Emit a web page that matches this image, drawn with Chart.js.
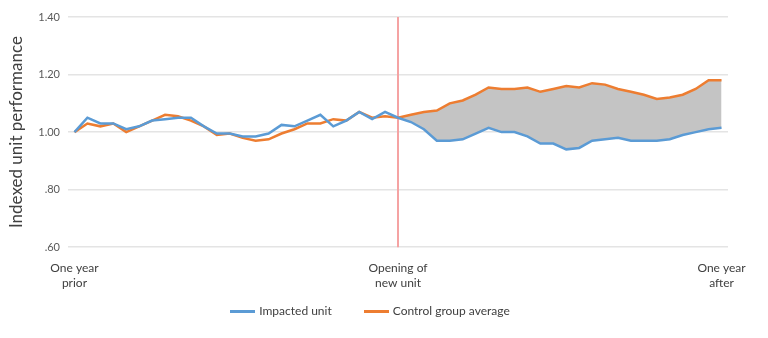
<!DOCTYPE html>
<html lang="en">
<head>
    <meta charset="UTF-8">
    <title>Unit performance</title>
    <script src="https://cdn.jsdelivr.net/npm/chart.js"></script>
    <style>
        body {
            margin: 0;
            background: #ffffff;
        }
        .chart-container {
            width: 768px;
            height: 338px;
            position: relative;
        }
        #legend {
            position: absolute;
            left: 0;
            top: 302px;
            width: 740px;
            display: flex;
            justify-content: center;
            gap: 32px;
            font-family: 'Lato', sans-serif;
            font-size: 12px;
            color: #404040;
        }
        #legend .item {
            display: flex;
            align-items: center;
            gap: 4px;
            line-height: 18px;
        }
        #legend .swatch {
            width: 25px;
            height: 3px;
        }
    </style>
</head>
<body>
    <div class="chart-container">
        <canvas id="perfChart"></canvas>
        <div id="legend"></div>
    </div>

    <script>
        // 51 periods, new unit opens at the middle one
        const periodLabels = [
            ['One year', 'prior'], '', '', '', '', '', '', '', '', '', '', '', '', '', '', '', '', '', '', '', '', '', '', '', '',
            ['Opening of', 'new unit'], '', '', '', '', '', '', '', '', '', '', '', '', '', '', '', '', '', '', '', '', '', '', '', '',
            ['One year', 'after']
        ];
        const openingIndex = 25;

        const impactedUnit = [
            1.00, 1.05, 1.03, 1.03, 1.01, 1.02, 1.04, 1.045, 1.05, 1.05,
            1.02, 0.995, 0.995, 0.985, 0.985, 0.995, 1.025, 1.02, 1.04, 1.06,
            1.02, 1.04, 1.07, 1.045, 1.07, 1.05, 1.035, 1.01, 0.97, 0.97,
            0.975, 0.995, 1.015, 1.00, 1.00, 0.985, 0.96, 0.96, 0.94, 0.945,
            0.97, 0.975, 0.98, 0.97, 0.97, 0.97, 0.975, 0.99, 1.00, 1.01,
            1.015
        ];
        const controlGroup = [
            1.00, 1.03, 1.02, 1.03, 1.00, 1.02, 1.04, 1.06, 1.055, 1.04,
            1.02, 0.99, 0.995, 0.98, 0.97, 0.975, 0.995, 1.01, 1.03, 1.03,
            1.045, 1.04, 1.07, 1.05, 1.055, 1.05, 1.06, 1.07, 1.075, 1.10,
            1.11, 1.13, 1.155, 1.15, 1.15, 1.155, 1.14, 1.15, 1.16, 1.155,
            1.17, 1.165, 1.15, 1.14, 1.13, 1.115, 1.12, 1.13, 1.15, 1.18,
            1.18
        ];

        // gap after opening: control values from the opening on, filled down to the impacted line
        const gapUpper = controlGroup.map((v, i) => i >= openingIndex ? v : null);

        const openingLine = {
            id: 'openingLine',
            beforeDatasetsDraw(chart) {
                const x = chart.scales.x.getPixelForValue(openingIndex);
                const { top, bottom } = chart.chartArea;
                const ctx = chart.ctx;
                ctx.save();
                ctx.strokeStyle = '#f5a3a3';
                ctx.lineWidth = 2;
                ctx.beginPath();
                ctx.moveTo(x, top);
                ctx.lineTo(x, bottom);
                ctx.stroke();
                ctx.restore();
            }
        };

        // legend as html so item spacing can be set freely
        const htmlLegend = {
            id: 'htmlLegend',
            afterUpdate(chart) {
                const box = document.getElementById('legend');
                box.innerHTML = '';
                const items = chart.options.plugins.legend.labels.generateLabels(chart)
                    .filter(item => item.datasetIndex < 2);
                items.forEach(item => {
                    const el = document.createElement('div');
                    el.className = 'item';
                    const swatch = document.createElement('span');
                    swatch.className = 'swatch';
                    swatch.style.background = item.strokeStyle;
                    const text = document.createElement('span');
                    text.textContent = item.text;
                    el.appendChild(swatch);
                    el.appendChild(text);
                    box.appendChild(el);
                });
            }
        };

        const ctx = document.getElementById('perfChart').getContext('2d');
        new Chart(ctx, {
            type: 'line',
            data: {
                labels: periodLabels,
                datasets: [{
                    label: 'Impacted unit',
                    data: impactedUnit,
                    borderColor: '#5b9bd5',
                    backgroundColor: '#5b9bd5',
                    borderWidth: 2.5,
                    pointRadius: 0,
                    tension: 0
                }, {
                    label: 'Control group average',
                    data: controlGroup,
                    borderColor: '#ed7d31',
                    backgroundColor: '#ed7d31',
                    borderWidth: 2.5,
                    pointRadius: 0,
                    tension: 0
                }, {
                    label: 'gap',
                    data: gapUpper,
                    borderWidth: 0,
                    borderColor: 'rgba(0,0,0,0)',
                    backgroundColor: '#c4c4c4',
                    pointRadius: 0,
                    tension: 0,
                    fill: 0
                }]
            },
            options: {
                responsive: true,
                maintainAspectRatio: false,
                animation: false,
                layout: {
                    padding: { left: 6, right: 40, top: 17, bottom: 42 }
                },
                scales: {
                    x: {
                        offset: true,
                        grid: { display: false },
                        border: { display: false },
                        ticks: {
                            autoSkip: false,
                            maxRotation: 0,
                            color: '#404040',
                            font: { family: 'Lato', size: 12 },
                            padding: 6
                        }
                    },
                    y: {
                        min: 0.6,
                        max: 1.4,
                        afterFit(scale) { scale.width = 62; },
                        grid: { color: '#e4e4e4', lineWidth: 1.5, drawTicks: false },
                        border: { display: false },
                        ticks: {
                            stepSize: 0.2,
                            padding: 8,
                            color: '#595959',
                            font: { family: 'Lato', size: 11 },
                            callback: v => v >= 1 ? v.toFixed(2) : v.toFixed(2).replace(/^0/, '')
                        },
                        title: {
                            display: true,
                            text: 'Indexed unit performance',
                            color: '#404040',
                            font: { family: 'Lato', size: 17 },
                            padding: { top: 0, bottom: 4 }
                        }
                    }
                },
                plugins: {
                    filler: { drawTime: 'beforeDatasetsDraw' },
                    tooltip: { enabled: false },
                    legend: { display: false }
                }
            },
            plugins: [openingLine, htmlLegend]
        });
    </script>
</body>
</html>
